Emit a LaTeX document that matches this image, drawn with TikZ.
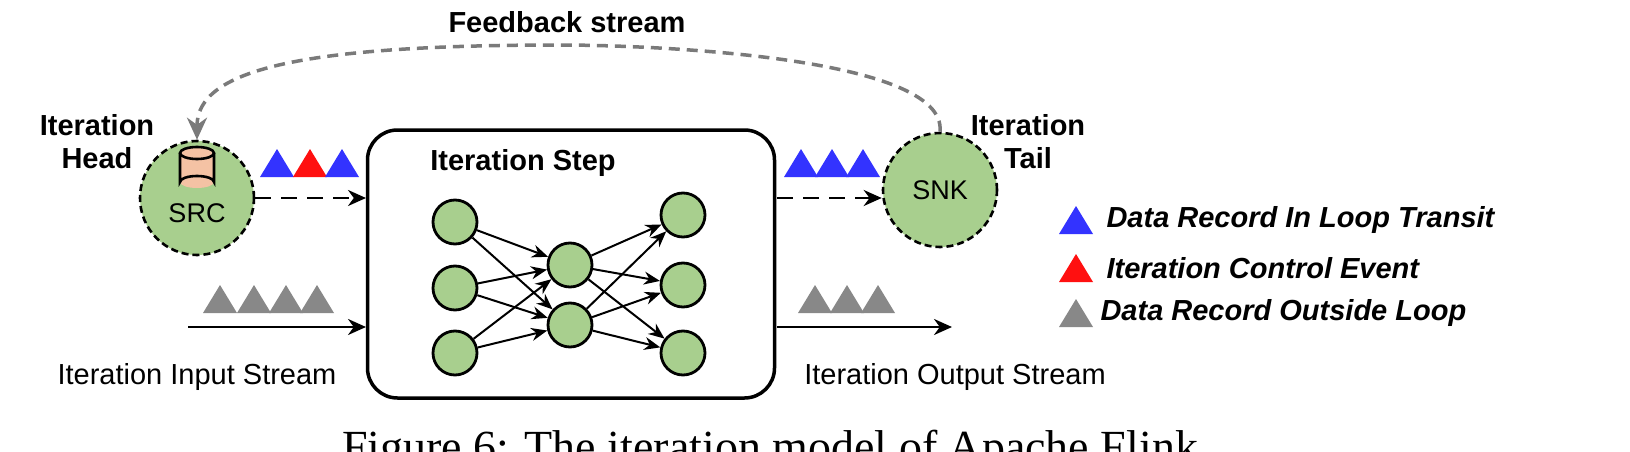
\documentclass[tikz,border=0pt]{standalone}
\usepackage{fontspec}
\setmainfont{Liberation Sans}
\newfontfamily\capfont{Liberation Serif}
\usetikzlibrary{arrows.meta}
\definecolor{ngreen}{HTML}{A8CF8E}
\definecolor{tblue}{HTML}{3333FF}
\definecolor{tred}{HTML}{FF1010}
\definecolor{tgray}{HTML}{888888}
\definecolor{peach}{HTML}{F4C2A4}
\begin{document}
\begin{tikzpicture}[x=1pt,y=-1pt,
  big/.style={circle,draw,line width=2.6pt,dash pattern=on 7pt off 4pt,fill=ngreen,minimum size=114pt,inner sep=0pt,font=\fontsize{27}{29}\selectfont},
  inn/.style={circle,draw,line width=2.8pt,fill=ngreen,minimum size=44pt,inner sep=0pt},
  arr/.style={-{Stealth[length=18pt,width=16pt]},line width=2.8pt},
  iarr/.style={-{Stealth[length=16pt,width=13pt]},line width=2pt},
  lbl/.style={font=\fontsize{29}{31}\selectfont},
  blbl/.style={font=\fontsize{29}{33}\selectfont\bfseries,align=center},
  leg/.style={font=\fontsize{29}{31}\selectfont\bfseries\itshape,anchor=west}]
\useasboundingbox (0,0) rectangle (1630,452);
\clip (0,0) rectangle (1630,452);
\def\tr#1#2#3{\fill[#3] (#1-17,#2+14) -- (#1,#2-14) -- (#1+17,#2+14) -- cycle;}
% big nodes
\node[big] (src) at (197,198) {};
\node[font=\fontsize{27}{29}\selectfont] (srct) at (197,213) {SRC};
\node[big] (snk) at (940,190) {SNK};
% cylinder
\begin{scope}[line width=2.6pt]
\fill[peach] (180,153) rectangle (214,182);
\fill[peach] (197,182) ellipse (17 and 6);
\draw (180,153) -- (180,182) arc[start angle=180,end angle=360,x radius=17,y radius=6] -- (214,153);
\draw[fill=peach] (197,153) ellipse (17 and 6);
\end{scope}
% box
\node[draw,line width=3.5pt,rounded corners=30pt,minimum width=407pt,minimum height=268pt] (box) at (571,264) {};
\node[blbl] (st) at (523,163) {Iteration Step};
% inner nodes
\node[inn] (a1) at (455,222) {};
\node[inn] (a2) at (455,288) {};
\node[inn] (a3) at (455,353) {};
\node[inn] (b1) at (570,265) {};
\node[inn] (b2) at (570,325) {};
\node[inn] (c1) at (683,215) {};
\node[inn] (c2) at (683,285) {};
\node[inn] (c3) at (683,353) {};
\foreach \a in {a1,a2,a3}{\foreach \b in {b1,b2}{\draw[iarr] (\a) -- (\b);}}
\foreach \b in {b1,b2}{\foreach \c in {c1,c2,c3}{\draw[iarr] (\b) -- (\c);}}
% arrows
\coordinate (boxin) at (366,198);
\coordinate (boxout) at (777,198);
\draw[arr,dash pattern=on 16pt off 10pt] (src.east |- boxin) -- (boxin);
\draw[arr,dash pattern=on 16pt off 10pt] (boxout) -- (snk.west |- boxout);
\coordinate (inS) at (188,327);
\coordinate (inE) at (366,327);
\coordinate (outS) at (777,327);
\coordinate (outE) at (952,327);
\draw[arr] (inS) -- (inE);
\draw[arr] (outS) -- (outE);
% feedback
\draw[-{Stealth[length=22pt,width=20pt]},line width=3.5pt,dash pattern=on 11pt off 7pt,color=tgray!90!black]
  (snk.north) .. controls (948,55) and (640,45) .. (560,45) .. controls (300,45) and (197,70) .. (src.north);
\node[blbl] (fb) at (567,22) {Feedback stream};
% labels
\node[blbl] (head) at (97,142) {Iteration\\Head};
\node[blbl] (tail) at (1028,142) {Iteration\\Tail};
\node[lbl] (inl) at (197,377) {Iteration Input Stream};
\node[lbl] (outl) at (955,377) {Iteration Output Stream};
% triangles
\tr{277}{163}{tblue}\tr{310}{163}{tred}\tr{342}{163}{tblue}
\tr{801}{163}{tblue}\tr{832}{163}{tblue}\tr{863}{163}{tblue}
\tr{220}{299}{tgray}\tr{254}{299}{tgray}\tr{286}{299}{tgray}\tr{317}{299}{tgray}
\tr{815}{299}{tgray}\tr{847}{299}{tgray}\tr{878}{299}{tgray}
% legend
\tr{1076}{220}{tblue}\tr{1076}{268}{tred}\tr{1076}{313}{tgray}
\node[leg] (l1) at (1103,220) {Data Record In Loop Transit};
\node[leg] (l2) at (1103,268) {Iteration Control Event};
\node[leg] (l3) at (1097,313) {Data Record Outside Loop};
% caption
\node[font=\fontsize{46}{48}\selectfont\capfont,anchor=base] (cap) at (770,462) {Figure 6: The iteration model of Apache Flink};
\end{tikzpicture}
\end{document}
